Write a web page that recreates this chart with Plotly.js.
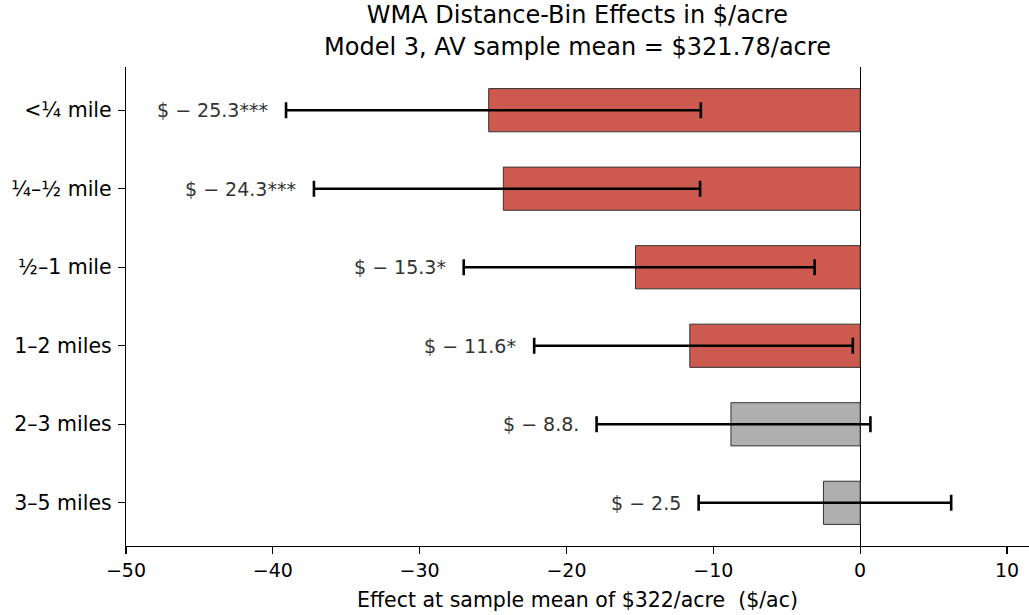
<!DOCTYPE html>
<html>
<head>
<meta charset="utf-8">
<script src="https://cdn.plot.ly/plotly-3.0.1.min.js"></script>
<style>html,body{margin:0;padding:0;background:#fff;}#chart{width:1029px;height:615px;}</style>
</head>
<body>
<div id="chart"></div>
<script>
const categories = ["<¼ mile", "¼–½ mile", "½–1 mile", "1–2 miles", "2–3 miles", "3–5 miles"];
const effects = [-25.3, -24.3, -15.3, -11.6, -8.8, -2.5];
const ciLow = [-39.1, -37.2, -27.0, -22.2, -17.95, -11.0];
const ciHigh = [-10.85, -10.9, -3.1, -0.5, 0.7, 6.2];
const stars = ["***", "***", "*", "*", ".", ""];
const significant = [true, true, true, true, false, false];
const xTicks = [-50, -40, -30, -20, -10, 0, 10];

const RED = "#CD5A4E", GRAY = "#AFAFAF";
const font = "DejaVu Sans, Liberation Sans, sans-serif";

const trace = {
  type: "bar",
  orientation: "h",
  y: categories,
  x: effects,
  width: 0.55,
  marker: {
    color: significant.map(s => s ? RED : GRAY),
    line: {color: "#333333", width: 1}
  },
  error_x: {
    type: "data",
    symmetric: false,
    array: ciHigh.map((h, i) => h - effects[i]),
    arrayminus: effects.map((e, i) => e - ciLow[i]),
    color: "#000000",
    thickness: 2.6,
    width: 8
  },
  hoverinfo: "x+y"
};

const annotations = categories.map((c, i) => ({
  x: ciLow[i], y: c, xref: "x", yref: "y",
  text: "$ − " + Math.abs(effects[i]).toFixed(1) + stars[i],
  showarrow: false, xanchor: "right", yanchor: "middle",
  xshift: -16,
  font: {family: font, size: 19, color: "#333333"}
}));

const layout = {
  width: 1029, height: 615,
  paper_bgcolor: "#ffffff", plot_bgcolor: "#ffffff",
  margin: {l: 126, r: 0, t: 67, b: 69},
  showlegend: false,
  font: {family: font, color: "#000000"},
  title: {
    text: "WMA Distance-Bin Effects in $/acre<br>Model 3, AV sample mean = $321.78/acre",
    font: {family: font, size: 24, color: "#000000"},
    x: 0.5, xanchor: "center", xref: "paper",
    yref: "container", y: 0.962, yanchor: "top", pad: {t: 0, b: 0}
  },
  xaxis: {
    range: [-50, 11.5],
    tickvals: xTicks,
    ticks: "outside", ticklen: 7, tickwidth: 1.2, tickcolor: "#000",
    showline: true, linecolor: "#000", linewidth: 1.2,
    showgrid: false,
    zeroline: true, zerolinecolor: "#000", zerolinewidth: 1.2,
    tickfont: {family: font, size: 19, color: "#000"},
    title: {text: "Effect at sample mean of $322/acre\u00a0\u00a0($/ac)", font: {family: font, size: 20.5, color: "#000"}, standoff: 12}
  },
  yaxis: {
    type: "category",
    categoryorder: "array", categoryarray: categories,
    range: [5.55, -0.55],
    ticks: "outside", ticklen: 7, tickwidth: 1.2, tickcolor: "#000",
    showline: true, linecolor: "#000", linewidth: 1.2,
    showgrid: false, zeroline: false,
    tickfont: {family: font, size: 20.5, color: "#000"},
    ticklabelstandoff: 2
  },
  annotations: annotations
};

Plotly.newPlot("chart", [trace], layout, {displayModeBar: false, staticPlot: true});
</script>
</body>
</html>
